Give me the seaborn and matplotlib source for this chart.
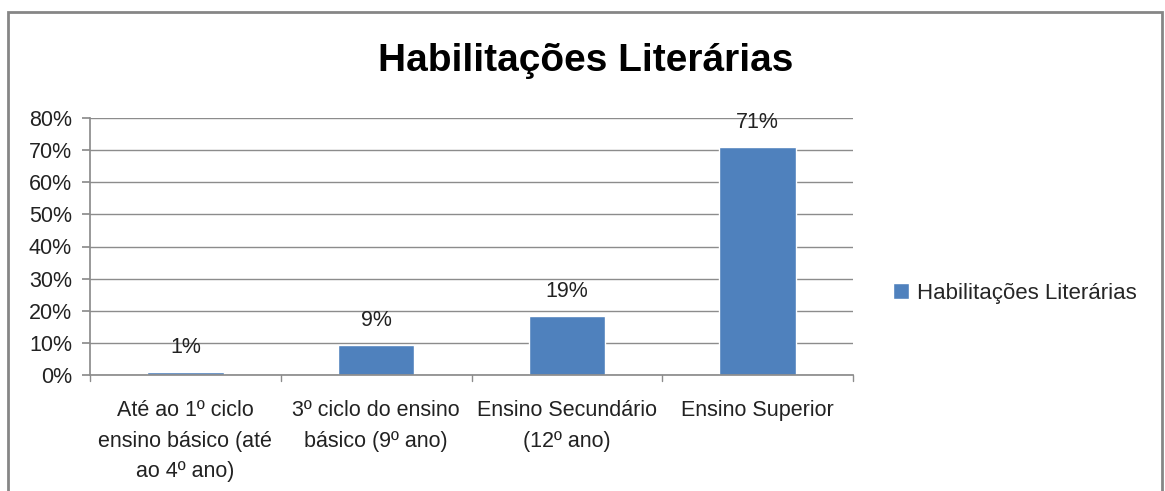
import matplotlib
matplotlib.use("Agg")
import matplotlib.pyplot as plt
import seaborn as sns
import pandas as pd
from matplotlib.patches import Rectangle
from matplotlib.ticker import PercentFormatter, FixedLocator

categories = ["Até ao 1º ciclo\nensino básico (até\nao 4º ano)",
              "3º ciclo do ensino\nbásico (9º ano)",
              "Ensino Secundário\n(12º ano)",
              "Ensino Superior"]
values = [0.009, 0.093, 0.184, 0.711]
labels = ["1%", "9%", "19%", "71%"]
series_name = "Habilitações Literárias"
title = "Habilitações Literárias"

sns.set_theme(style="white")
plt.rcParams['font.family'] = ['Liberation Sans', 'DejaVu Sans']

fig = plt.figure(figsize=(11.65, 4.91), dpi=100)
ax = fig.add_axes([90/1165, 1-375/491, (853-90)/1165, (375-118)/491])

df = pd.DataFrame({"cat": categories, "val": values, "s": series_name})
sns.barplot(data=df, x="cat", y="val", hue="s", palette=["#4F81BD"], width=0.4,
            ax=ax, saturation=1, legend=True)

ax.set_ylim(0, 0.8)
ax.set_xlim(-0.5, 3.5)
ax.yaxis.set_major_locator(FixedLocator([i/10 for i in range(9)]))
ax.yaxis.set_major_formatter(PercentFormatter(1.0, decimals=0))
ax.grid(axis="y", color="#8c8c8c", linewidth=1)
ax.set_axisbelow(True)
for s in ["top", "right"]:
    ax.spines[s].set_visible(False)
ax.spines["left"].set_color("#8c8c8c")
ax.spines["bottom"].set_color("#8c8c8c")
ax.set_xlabel("")
ax.set_ylabel("")

ax.tick_params(axis="y", left=True, length=6, color="#8c8c8c", labelsize=15.5, pad=7, labelcolor="#222222")
ax.set_xticks([0, 1, 2, 3])
ax.set_xticklabels(categories, fontsize=15.5, color="#222222", linespacing=1.6)
ax.tick_params(axis="x", bottom=False, pad=12)
for b in [-0.5, 0.5, 1.5, 2.5, 3.5]:
    ax.plot([b, b], [0, -0.02], color="#8c8c8c", lw=1, clip_on=False)

for i, (v, l) in enumerate(zip(values, labels)):
    ax.annotate(l, (i, v), xytext=(0, 10), textcoords="offset points",
                ha="center", va="bottom", fontsize=15.5, color="#222222")

handles, lbls = ax.get_legend_handles_labels()
ax.legend(handles, lbls, loc="center left", bbox_to_anchor=(873/1165, 1-293/491),
          bbox_transform=fig.transFigure, frameon=False, fontsize=16,
          handlelength=0.7, handleheight=0.7, handletextpad=0.4)

fig.text(586/1165, 1-61/491, title, ha="center", va="center", fontsize=28,
         fontweight="bold", color="black")

fig.patches.append(Rectangle((8/1165, -0.05), (1162-8)/1165, 1.05 - 12/491,
                             transform=fig.transFigure, fill=False,
                             edgecolor="#868686", linewidth=2))

fig.savefig("out.png", dpi=100)
